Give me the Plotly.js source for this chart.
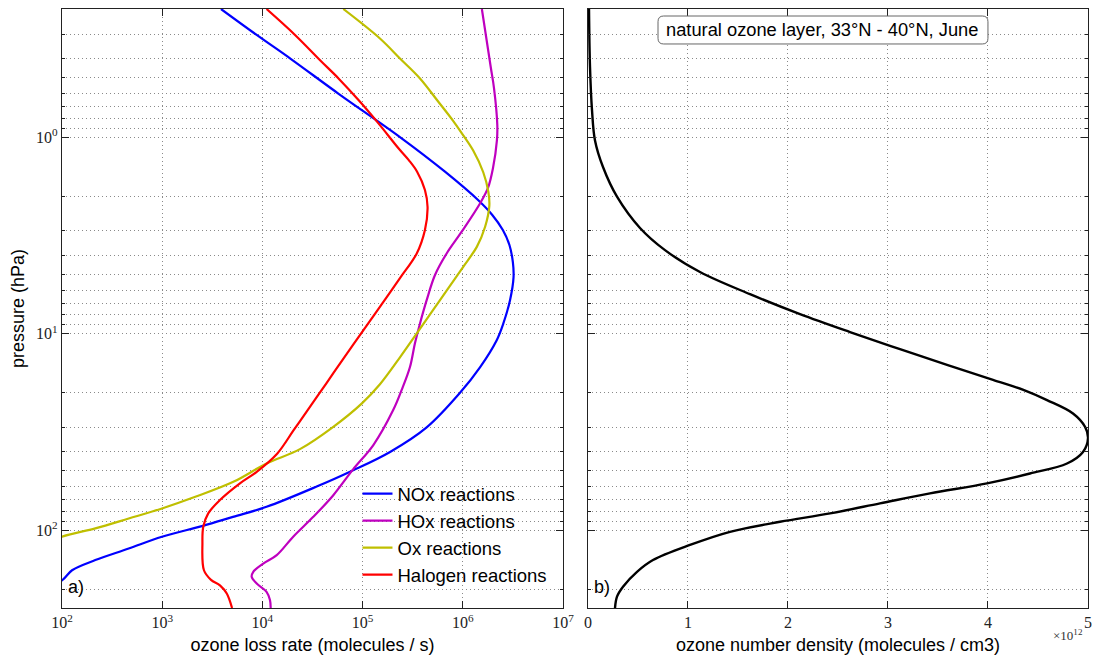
<!DOCTYPE html>
<html>
<head>
<meta charset="utf-8">
<script src="https://cdn.plot.ly/plotly-3.0.1.min.js"></script>
<style>html,body{margin:0;padding:0;background:#fff;}#chart{width:1096px;height:658px;}</style>
</head>
<body>
<div id="chart"></div>
<script>
// ---- data (pressure in hPa, loss rate in molecules/s) ----
const p_nox = [0.223,0.303,0.401,0.604,1.0,1.5,2.09,2.49,2.97,3.54,4.33,5.16,6.76,8.87,10.8,14.8,20,30,40,50,60,76.1,85.6,95.1,108,124,142,160,180,200];
const nox   = [3.86e3,8.84e3,1.93e4,5.81e4,2.36e5,6.64e5,1.42e6,1.97e6,2.51e6,2.92e6,3.16e6,3.21e6,2.96e6,2.54e6,2.18e6,1.49e6,9.38e5,4.36e5,1.88e5,7.78e4,3.48e4,1.10e4,5.09e3,2.55e3,995,463,215,126,100,60];

const p_hox = [0.223,0.44,0.565,0.869,1.04,1.44,1.82,2.17,3.03,3.91,5.03,6.76,8.88,11.2,14.8,19.4,24.5,36.9,48.9,66.4,85.6,108,134,148,163,173,187,206,227,249];
const hox   = [1.55e6,1.9e6,2.05e6,2.21e6,2.19e6,2.00e6,1.78e6,1.49e6,9.75e5,6.90e5,5.28e5,4.36e5,3.74e5,3.33e5,2.97e5,2.45e5,2.02e5,1.28e5,8.07e4,5.10e4,3.22e4,2.03e4,1.39e4,1.02e4,8.11e3,7.82e3,8.77e3,1.10e4,1.19e4,1.21e4];

const p_ox = [0.223,0.315,0.398,0.503,0.661,0.829,0.943,1.17,1.51,1.90,2.24,2.86,3.62,4.57,6.01,7.59,9.60,13.2,18.1,22.7,29.8,38.7,45.8,56.8,67.7,77.6,87.3,98.0,108,125];
const ox   = [6.42e4,1.49e5,2.36e5,3.74e5,5.70e5,8.04e5,9.6e5,1.27e6,1.60e6,1.80e6,1.84e6,1.67e6,1.38e6,1.01e6,6.95e5,5.04e5,3.66e5,2.36e5,1.49e5,9.79e4,5.10e4,2.37e4,1.10e4,5.13e3,2.14e3,995,463,215,100,50];

const p_hal = [0.223,0.303,0.410,0.503,0.648,0.852,1.14,1.31,1.50,1.86,2.27,2.97,3.91,5.22,7.16,9.60,13.6,17.9,24.5,31.0,40.7,50.5,57.8,70.3,82.2,96.2,116,160,179,191,210,249];
const hal   = [1.10e4,2.13e4,3.83e4,5.75e4,9.10e4,1.44e5,2.28e5,2.89e5,3.50e5,4.19e5,4.45e5,4.19e5,3.47e5,2.36e5,1.53e5,1.02e5,6.31e4,4.35e4,2.83e4,2.05e4,1.41e4,8.77e3,5.97e3,3.77e3,2.88e3,2.57e3,2.52e3,2.61e3,3.07e3,3.77e3,4.41e3,4.98e3];

// ozone number density (molecules / cm3)
const p_o3 = [0.223,0.439,0.729,1.04,1.42,2.01,2.90,3.76,4.86,6.30,7.96,9.82,12.0,14.6,17.2,19.4,21.8,25.5,29.8,34.1,40.0,45.8,51.5,57.8,65.0,73.1,82.2,90.7,102,119,142,163,194,218,249];
const o3   = [0.01e12,0.02e12,0.04e12,0.07e12,0.15e12,0.29e12,0.52e12,0.77e12,1.12e12,1.62e12,2.12e12,2.62e12,3.12e12,3.62e12,4.05e12,4.36e12,4.59e12,4.85e12,4.97e12,5.0e12,4.95e12,4.79e12,4.42e12,3.99e12,3.42e12,2.92e12,2.42e12,1.92e12,1.42e12,1.02e12,0.65e12,0.49e12,0.35e12,0.29e12,0.27e12];

const seriesNames = ['NOx reactions','HOx reactions','Ox reactions','Halogen reactions'];
const rateTicks = [1e2,1e3,1e4,1e5,1e6,1e7];
const rateTickText = ['10<sup>2</sup>','10<sup>3</sup>','10<sup>4</sup>','10<sup>5</sup>','10<sup>6</sup>','10<sup>7</sup>'];
const presTicks = [1,10,100];
const presTickText = ['10<sup>0</sup>','10<sup>1</sup>','10<sup>2</sup>'];
const presMinor = [0.3,0.4,0.5,0.6,0.7,0.8,0.9,2,3,4,5,6,7,8,9,20,30,40,50,60,70,80,90,200];
const densTicks = [0,1e12,2e12,3e12,4e12,5e12];
const densTickText = ['0','1','2','3','4','5'];

const colors = ['#0000ff','#bf00bf','#bfbf00','#ff0000'];
const xs = [nox,hox,ox,hal];
const ys = [p_nox,p_hox,p_ox,p_hal];

const traces = xs.map((x,i)=>({
  x:x, y:ys[i], type:'scatter', mode:'lines', name:seriesNames[i],
  legendgroup:'g'+i,
  line:{color:colors[i], width:2.2, shape:'spline', smoothing:1.0},
  xaxis:'x', yaxis:'y', hoverinfo:'skip'
}));
traces.push({x:o3, y:p_o3, type:'scatter', mode:'lines', showlegend:false,
  line:{color:'#000', width:2.4, shape:'spline', smoothing:1.0}, xaxis:'x2', yaxis:'y2'});

const gridC = '#8a8a8a';
const gdash = '1px,3px';
const tickFont = {family:'"Liberation Serif", serif', size:16, color:'#222'};
const titleFont = {family:'"Liberation Sans", Arial, sans-serif', size:18, color:'#000'};
const yRange = [Math.log10(249), Math.log10(0.223)];

function yax(labels){
  return {
    type:'log', range:yRange, showline:true, linecolor:'#222', linewidth:1.2, mirror:'ticks',
    ticks:'inside', ticklen:7, tickcolor:'#222',
    tickmode:'array', tickvals:presTicks, ticktext:presTickText, showticklabels:labels,
    tickfont:tickFont, showgrid:true, gridcolor:gridC, griddash:gdash, gridwidth:1,
    minor:{tickmode:'array', tickvals:presMinor, ticks:'inside', ticklen:3, tickcolor:'#222',
           showgrid:true, gridcolor:gridC, griddash:gdash, gridwidth:1},
    zeroline:false
  };
}

// rounded title box (paper coords)
const bx0 = 0.5809, bx1 = 0.9025, by0 = 0.9416, by1 = 0.9883, rx = 0.0055, ry = 0.0095;
const boxPath = `M ${bx0+rx},${by0} L ${bx1-rx},${by0} Q ${bx1},${by0} ${bx1},${by0+ry} L ${bx1},${by1-ry} Q ${bx1},${by1} ${bx1-rx},${by1} L ${bx0+rx},${by1} Q ${bx0},${by1} ${bx0},${by1-ry} L ${bx0},${by0+ry} Q ${bx0},${by0} ${bx0+rx},${by0} Z`;

const layout = {
  width:1096, height:658,
  margin:{l:62, r:8, t:9, b:50},
  paper_bgcolor:'#fff', plot_bgcolor:'#fff',
  showlegend:true,
  legend:{x:0.288, y:0.222, xanchor:'left', yanchor:'top', bgcolor:'rgba(0,0,0,0)',
          font:{family:'"Liberation Sans", Arial, sans-serif', size:18.5, color:'#000'},
          tracegroupgap:0, borderwidth:0},
  xaxis:{domain:[0,0.4883], anchor:'y', type:'log', range:[2,7],
    tickmode:'array', tickvals:rateTicks, ticktext:rateTickText, tickfont:tickFont,
    showline:true, linecolor:'#222', linewidth:1.2, mirror:'ticks', ticks:'inside', ticklen:7, tickcolor:'#222',
    showgrid:true, gridcolor:gridC, griddash:gdash, gridwidth:1, zeroline:false,
    title:{text:'ozone loss rate (molecules / s)', font:titleFont, standoff:8}},
  yaxis:Object.assign(yax(true), {anchor:'x', title:{text:'pressure (hPa)', font:titleFont, standoff:6}}),
  xaxis2:{domain:[0.51267,1], anchor:'y2', range:[0,5e12],
    tickmode:'array', tickvals:densTicks, ticktext:densTickText, tickfont:tickFont,
    showline:true, linecolor:'#222', linewidth:1.2, mirror:'ticks', ticks:'inside', ticklen:7, tickcolor:'#222',
    showgrid:true, gridcolor:gridC, griddash:gdash, gridwidth:1, zeroline:false,
    title:{text:'ozone number density (molecules / cm3)', font:titleFont, standoff:8}},
  yaxis2:Object.assign(yax(false), {anchor:'x2'}),
  shapes:[
    {type:'path', xref:'paper', yref:'paper', path:boxPath, fillcolor:'#fff', line:{color:'#666', width:1}, layer:'above'}
  ],
  annotations:[
    {text:'a)', xref:'x domain', yref:'y domain', x:0.008, y:0.035, xanchor:'left', yanchor:'middle', showarrow:false,
     font:{family:'"Liberation Sans", Arial, sans-serif', size:18, color:'#000'}},
    {text:'b)', xref:'x2 domain', yref:'y2 domain', x:0.008, y:0.035, xanchor:'left', yanchor:'middle', showarrow:false,
     font:{family:'"Liberation Sans", Arial, sans-serif', size:18, color:'#000'}},
    {text:'natural ozone layer, 33°N - 40°N, June', xref:'x2 domain', yref:'y2 domain', x:0.468, y:0.965,
     xanchor:'center', yanchor:'middle', showarrow:false,
     font:{family:'"Liberation Sans", Arial, sans-serif', size:18.3, color:'#000'}},
    {text:'×10<sup>12</sup>', xref:'x2 domain', yref:'y2 domain', x:0.995, y:-0.028, xanchor:'right', yanchor:'top', showarrow:false,
     font:{family:'"Liberation Serif", serif', size:13, color:'#333'}}
  ]
};

Plotly.newPlot('chart', traces, layout, {displayModeBar:false, staticPlot:true});
</script>
</body>
</html>
